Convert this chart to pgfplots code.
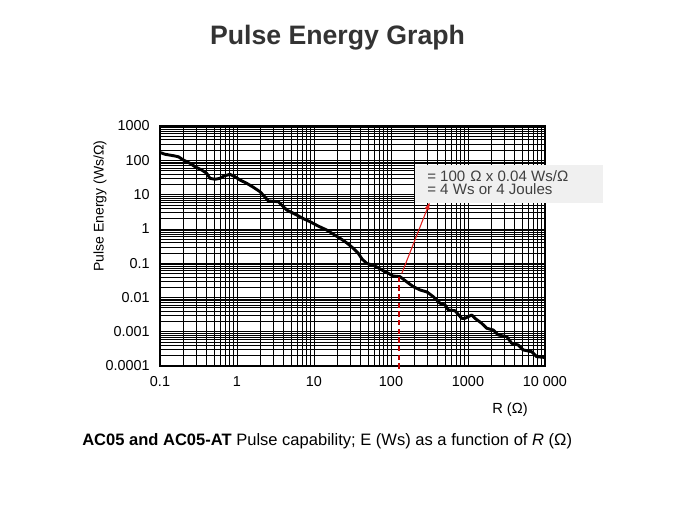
\documentclass[border=0pt]{standalone}
\usepackage{pgfplots}
\pgfplotsset{compat=1.18}
\usepackage{pgfplotstable}
\usepackage{fontspec}
\setmainfont{Liberation Sans}
\usetikzlibrary{arrows.meta}
\definecolor{annotred}{HTML}{E0201E}
\definecolor{dashred}{HTML}{C00000}
\definecolor{boxgray}{HTML}{F0F0F0}
\definecolor{txtgray}{HTML}{404040}
\definecolor{titlegray}{HTML}{333333}

\pgfplotstableread{
R E
0.1 169
0.116 150
0.149 136
0.173 127
0.201 102
0.245 81.7
0.285 65
0.348 52.1
0.404 41.7
0.446 29.8
0.518 27.9
0.601 29.8
0.678 34.8
0.811 39.0
0.942 33.2
1.094 26.6
1.336 21.3
1.614 16.6
1.99 12.1
2.31 8.49
2.55 6.49
3.44 6.19
4.42 3.55
5.96 2.54
7.20 2.01
8.87 1.62
11.3 1.21
14.6 0.927
17.7 0.708
21.8 0.531
26.8 0.386
32.4 0.271
37.6 0.194
42.0 0.132
48.3 0.0989
62.0 0.0826
76.4 0.0631
92.2 0.0506
106 0.0422
131 0.0403
161 0.0282
195 0.0206
238 0.0165
294 0.0144
354 0.0105
433 0.00675
503 0.00601
555 0.00430
678 0.00410
828 0.00246
914 0.00246
1117 0.00307
1233 0.00246
1507 0.00176
1750 0.00126
2133 0.00112
2476 0.000802
3184 0.000716
3696 0.000459
4500 0.000410
5226 0.000293
6714 0.000261
7800 0.000187
10000 0.000177
}\energy

\begin{document}
\begin{tikzpicture}[x=0.75pt,y=0.75pt]
\useasboundingbox (0,0) rectangle (675,506);
\fill[white] (0,0) rectangle (675,506);
\node[anchor=base, inner sep=0pt, font=\fontsize{20}{24}\selectfont\bfseries, text=titlegray] at (337.5,461) {Pulse Energy Graph};
\begin{axis}[
 at={(120pt,105pt)}, anchor=south west,
 width=288.75pt, height=180pt, scale only axis,
 xmode=log, ymode=log,
 xmin=0.1, xmax=10000, ymin=0.0001, ymax=1000,
 xtick={0.1,1,10,100,1000,10000},
 xticklabels={0.1,1,10,100,1000,10\ 000},
 ytick={0.0001,0.001,0.01,0.1,1,10,100,1000},
 yticklabels={0.0001,0.001,0.01,0.1,1,10,100,1000},
 grid=both,
 minor grid style={black, line width=0.4pt},
 major grid style={black, line width=0.5pt},
 major tick length=0pt, minor tick length=0pt,
 axis line style={black, line width=1.2pt},
 tick label style={font=\fontsize{10.8}{12}\selectfont},
 yticklabel style={inner sep=0pt, xshift=-7.5pt},
 xticklabel style={inner sep=0pt, yshift=-7.5pt},
 clip=false,
]
\addplot[black, line width=2.2pt, line join=round] table {\energy};
\draw[dashred, line width=1.6pt, dash pattern=on 4pt off 2.5pt] (axis cs:127,0.04) -- (axis cs:127,0.00007);
\draw[annotred, line width=0.8pt, -{Latex[length=6pt,width=4pt]}] (axis cs:138,0.05) -- (axis cs:321,6.2);
\end{axis}
\fill[boxgray] (415,303) rectangle (603,341);
\node[anchor=base west, inner sep=0pt, font=\fontsize{11.3}{13}\selectfont, text=txtgray] at (427,324) {= 100\,\,Ω x 0.04 Ws/Ω};
\node[anchor=base west, inner sep=0pt, font=\fontsize{11.3}{13}\selectfont, text=txtgray] at (427,311.5) {= 4 Ws or 4 Joules};
\node[rotate=90, inner sep=0pt, font=\fontsize{10.5}{12}\selectfont] at (100,300) {Pulse Energy (Ws/Ω)};
\node[inner sep=0pt, font=\fontsize{11}{12}\selectfont] at (510,96) {R (Ω)};
\node[anchor=base west, inner sep=0pt, font=\fontsize{12.4}{14}\selectfont] at (82,60) {\textbf{AC05 and AC05-AT} Pulse capability; E (Ws) as a function of \textit{R} (Ω)};
\end{tikzpicture}
\end{document}
